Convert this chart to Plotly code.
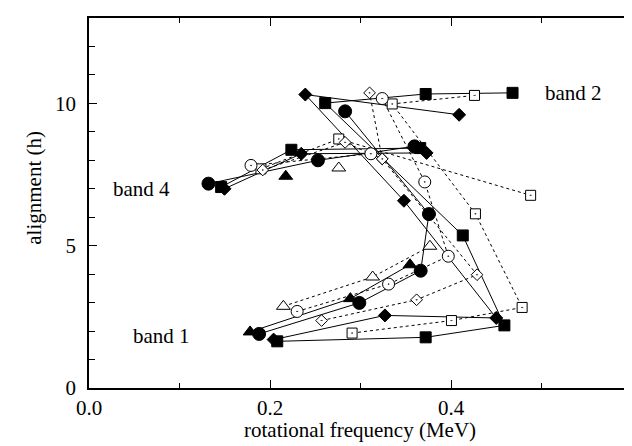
import plotly.graph_objects as go

# ---- data (rotational frequency in MeV, alignment in hbar) ----
# filled markers (solid lines)
fsq_x = [0.208, 0.372, 0.459, 0.413, 0.261, 0.372, 0.468]
fsq_y = [1.64, 1.78, 2.20, 5.36, 10.01, 10.33, 10.37]
fsq4_x = [0.146, 0.2236, 0.366]
fsq4_y = [7.06, 8.37, 8.43]

fdi_x = [0.204, 0.327, 0.450, 0.348, 0.239, 0.409]
fdi_y = [1.70, 2.55, 2.46, 6.58, 10.31, 9.60]
fdi4_x = [0.1497, 0.2346, 0.373]
fdi4_y = [7.00, 8.23, 8.26]

fci_x = [0.188, 0.2987, 0.3665, 0.3756, 0.283]
fci_y = [1.90, 2.99, 4.12, 6.11, 9.72]
fci4_x = [0.132, 0.253, 0.3596]
fci4_y = [7.18, 8.00, 8.49]

ftr_x = [0.178, 0.2888, 0.3547]
ftr_y = [1.97, 3.14, 4.33]
ftr4_x = [0.2174]
ftr4_y = [7.44]

# open markers (dotted lines)
osq_x = [0.2907, 0.4005, 0.4786, 0.427, 0.335, 0.426]
osq_y = [1.93, 2.37, 2.83, 6.12, 9.98, 10.28]
osq4_x = [0.190, 0.276, 0.488]
osq4_y = [7.70, 8.75, 6.77]

odi_x = [0.257, 0.362, 0.4288, 0.324, 0.310]
odi_y = [2.37, 3.10, 3.98, 8.05, 10.37]
odi4_x = [0.192, 0.283, 0.324]
odi4_y = [7.66, 8.63, 8.05]

oci_x = [0.230, 0.331, 0.397, 0.371, 0.324]
oci_y = [2.69, 3.65, 4.63, 7.24, 10.17]
oci4_x = [0.179, 0.3115]
oci4_y = [7.82, 8.23]

otr_x = [0.2148, 0.3134, 0.3767]
otr_y = [2.87, 3.90, 4.98]
otr4_x = [0.276]
otr4_y = [7.73]

band_labels = ["band 2", "band 4", "band 1"]
band_x = [0.5016, 0.0244, 0.0467]
band_y = [10.37, 6.99, 1.83]

x_ticks = [0.0, 0.2, 0.4]
y_ticks = [0, 5, 10]

# ---- figure ----
series = [
    (fsq_x, fsq_y, "square", True, 11),
    (fsq4_x, fsq4_y, "square", True, 11),
    (fdi_x, fdi_y, "diamond", True, 10),
    (fdi4_x, fdi4_y, "diamond", True, 10),
    (fci_x, fci_y, "circle", True, 13),
    (fci4_x, fci4_y, "circle", True, 13),
    (ftr_x, ftr_y, "triangle-up", True, 12),
    (ftr4_x, ftr4_y, "triangle-up", True, 12),
    (osq_x, osq_y, "square-dot", False, 10),
    (osq4_x, osq4_y, "square-dot", False, 10),
    (odi_x, odi_y, "diamond-dot", False, 9),
    (odi4_x, odi4_y, "diamond-dot", False, 9),
    (oci_x, oci_y, "circle-dot", False, 12),
    (oci4_x, oci4_y, "circle-dot", False, 12),
    (otr_x, otr_y, "triangle-up", False, 12),
    (otr4_x, otr4_y, "triangle-up", False, 12),
]

FONT = "Liberation Serif"

fig = go.Figure()
for xs, ys, sym, filled, sz in series:
    fig.add_trace(go.Scatter(
        x=xs, y=ys, mode="lines", showlegend=False, hoverinfo="skip",
        line=dict(color="black", width=1, dash="solid" if filled else "dot"),
    ))
for xs, ys, sym, filled, sz in series:
    fig.add_trace(go.Scatter(
        x=xs, y=ys, mode="markers", showlegend=False,
        marker=dict(symbol=sym, size=sz,
                    color="black" if filled else "white",
                    line=dict(color="black", width=1)),
    ))

for t, bx, by in zip(band_labels, band_x, band_y):
    fig.add_annotation(x=bx, y=by, text=t, showarrow=False,
                       xanchor="left", yanchor="middle",
                       font=dict(family=FONT, size=21, color="black"))

fig.add_annotation(xref="paper", yref="paper", x=(353 - 80.5) / 545.5, y=-(422 - 380) / 370,
                   text="rotational frequency (MeV)", showarrow=False,
                   xanchor="center", yanchor="middle",
                   font=dict(family=FONT, size=21, color="black"))
fig.add_annotation(xref="paper", yref="paper", x=-(80.5 - 25) / 545.5, y=(380 - 180) / 370,
                   text="alignment (h)", showarrow=False, textangle=-90,
                   xanchor="center", yanchor="middle",
                   font=dict(family=FONT, size=21, color="black"))

axis_common = dict(showgrid=False, zeroline=False, showline=True, linecolor="black",
                   linewidth=1.5, mirror="ticks", ticks="inside", tickcolor="black",
                   ticklen=8, tickwidth=1,
                   tickfont=dict(family=FONT, size=21, color="black"))
fig.update_xaxes(range=[0, 0.6], tickvals=x_ticks, ticktext=[f"{v:.1f}" for v in x_ticks],
                 minor=dict(dtick=0.1, tick0=0, ticks="inside", ticklen=5, tickcolor="black"),
                 **axis_common)
fig.update_yaxes(range=[0, 13], tickvals=y_ticks, ticktext=[str(v) for v in y_ticks],
                 ticklabelstandoff=7,
                 minor=dict(dtick=1, tick0=0, ticks="inside", ticklen=6, tickcolor="black"),
                 **axis_common)
fig.update_layout(width=632, height=446, plot_bgcolor="white", paper_bgcolor="white",
                  margin=dict(l=80.5, r=6, t=10, b=66))
fig.write_html("out.html")
